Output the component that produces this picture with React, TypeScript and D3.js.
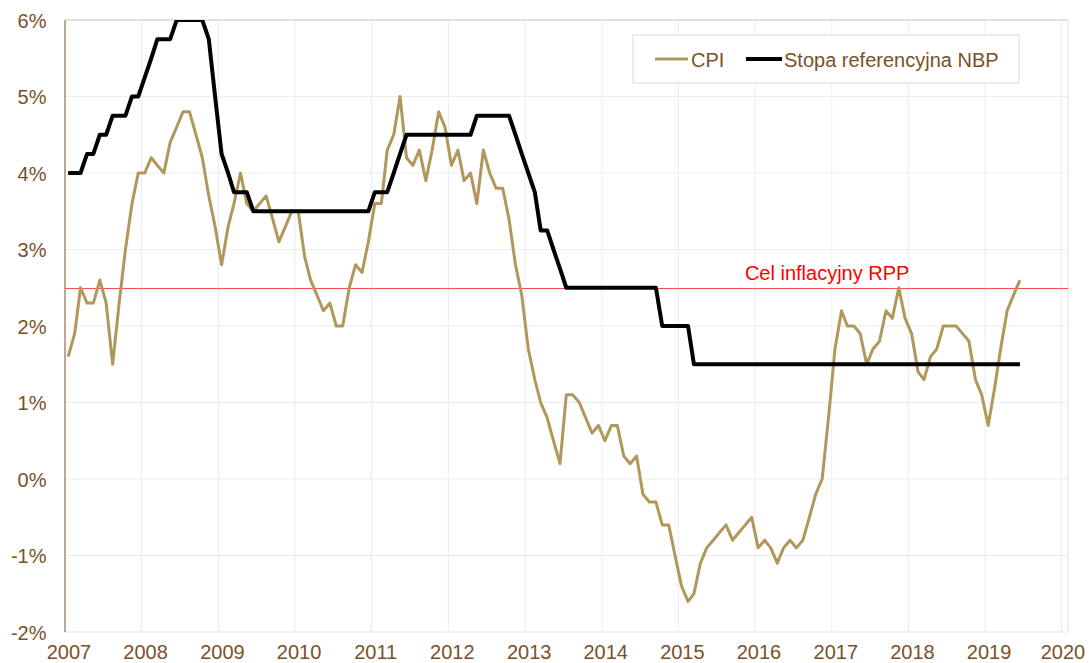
import React, { useEffect, useRef } from "react";
import * as d3 from "d3";

// monthly data, Jan 2007 .. Jun 2019 (y/y CPI and NBP reference rate, month end)
const START_YEAR = 2007;

const cpi: number[] = [
  1.6, 1.9, 2.5, 2.3, 2.3, 2.6, 2.3, 1.5, 2.3, 3.0, 3.6, 4.0,
  4.0, 4.2, 4.1, 4.0, 4.4, 4.6, 4.8, 4.8, 4.5, 4.2, 3.7, 3.3,
  2.8, 3.3, 3.6, 4.0, 3.6, 3.5, 3.6, 3.7, 3.4, 3.1, 3.3, 3.5,
  3.5, 2.9, 2.6, 2.4, 2.2, 2.3, 2.0, 2.0, 2.5, 2.8, 2.7, 3.1,
  3.6, 3.6, 4.3, 4.5, 5.0, 4.2, 4.1, 4.3, 3.9, 4.3, 4.8, 4.6,
  4.1, 4.3, 3.9, 4.0, 3.6, 4.3, 4.0, 3.8, 3.8, 3.4, 2.8, 2.4,
  1.7, 1.3, 1.0, 0.8, 0.5, 0.2, 1.1, 1.1, 1.0, 0.8, 0.6, 0.7,
  0.5, 0.7, 0.7, 0.3, 0.2, 0.3, -0.2, -0.3, -0.3, -0.6, -0.6, -1.0,
  -1.4, -1.6, -1.5, -1.1, -0.9, -0.8, -0.7, -0.6, -0.8, -0.7, -0.6, -0.5,
  -0.9, -0.8, -0.9, -1.1, -0.9, -0.8, -0.9, -0.8, -0.5, -0.2, 0.0, 0.8,
  1.7, 2.2, 2.0, 2.0, 1.9, 1.5, 1.7, 1.8, 2.2, 2.1, 2.5, 2.1,
  1.9, 1.4, 1.3, 1.6, 1.7, 2.0, 2.0, 2.0, 1.9, 1.8, 1.3, 1.1,
  0.7, 1.2, 1.7, 2.2, 2.4, 2.6,
];

const nbp: number[] = [
  4.0, 4.0, 4.0, 4.25, 4.25, 4.5, 4.5, 4.75, 4.75, 4.75, 5.0, 5.0,
  5.25, 5.5, 5.75, 5.75, 5.75, 6.0, 6.0, 6.0, 6.0, 6.0, 5.75, 5.0,
  4.25, 4.0, 3.75, 3.75, 3.75, 3.5, 3.5, 3.5, 3.5, 3.5, 3.5, 3.5,
  3.5, 3.5, 3.5, 3.5, 3.5, 3.5, 3.5, 3.5, 3.5, 3.5, 3.5, 3.5,
  3.75, 3.75, 3.75, 4.0, 4.25, 4.5, 4.5, 4.5, 4.5, 4.5, 4.5, 4.5,
  4.5, 4.5, 4.5, 4.5, 4.75, 4.75, 4.75, 4.75, 4.75, 4.75, 4.5, 4.25,
  4.0, 3.75, 3.25, 3.25, 3.0, 2.75, 2.5, 2.5, 2.5, 2.5, 2.5, 2.5,
  2.5, 2.5, 2.5, 2.5, 2.5, 2.5, 2.5, 2.5, 2.5, 2.0, 2.0, 2.0,
  2.0, 2.0, 1.5, 1.5, 1.5, 1.5, 1.5, 1.5, 1.5, 1.5, 1.5, 1.5,
  1.5, 1.5, 1.5, 1.5, 1.5, 1.5, 1.5, 1.5, 1.5, 1.5, 1.5, 1.5,
  1.5, 1.5, 1.5, 1.5, 1.5, 1.5, 1.5, 1.5, 1.5, 1.5, 1.5, 1.5,
  1.5, 1.5, 1.5, 1.5, 1.5, 1.5, 1.5, 1.5, 1.5, 1.5, 1.5, 1.5,
  1.5, 1.5, 1.5, 1.5, 1.5, 1.5,
];

const target = 2.5;
const yTicks = [-2, -1, 0, 1, 2, 3, 4, 5, 6];
const yearTicks = [2007, 2008, 2009, 2010, 2011, 2012, 2013, 2014, 2015, 2016, 2017, 2018, 2019, 2020];

const FONT = "'Liberation Sans', Arial, sans-serif";
const LABEL = "#7b5127";
const CPI_COLOR = "#b2975b";

export default function App() {
  const svgRef = useRef<SVGSVGElement | null>(null);

  useEffect(() => {
    if (!svgRef.current) return;
    const svg = d3.select(svgRef.current);
    svg.selectAll("*").remove();

    const left = 65, right = 1068, top = 20, bottom = 632;

    const x = d3
      .scaleTime()
      .domain([new Date(2007, 0, 1), new Date(2020, 0, 1)])
      .range([left, 1061.7]);
    const y = d3.scaleLinear().domain([-2, 6]).range([bottom, top]);

    const dateOf = (i: number) => new Date(START_YEAR, i, 16);

    // grid
    const grid = svg.append("g");
    yTicks.filter((t) => t > -2 && t < 6).forEach((t) => {
      grid.append("line").attr("x1", left).attr("x2", right).attr("y1", y(t)).attr("y2", y(t))
        .attr("stroke", "#ececec").attr("stroke-width", 1);
    });
    yearTicks.slice(1).forEach((yr) => {
      const xx = x(new Date(yr, 0, 1));
      grid.append("line").attr("x1", xx).attr("x2", xx).attr("y1", top).attr("y2", bottom)
        .attr("stroke", "#ececec").attr("stroke-width", 1);
    });

    // frame
    svg.append("line").attr("x1", left).attr("x2", right).attr("y1", top).attr("y2", top).attr("stroke", "#c4c4c4");
    svg.append("line").attr("x1", left).attr("x2", right).attr("y1", bottom).attr("y2", bottom).attr("stroke", "#e2e2e2");
    svg.append("line").attr("x1", right).attr("x2", right).attr("y1", top).attr("y2", bottom).attr("stroke", "#e2e2e2");

    // y labels
    svg.append("g").selectAll("text").data(yTicks).join("text")
      .attr("x", 46.5).attr("y", (d) => y(d) + 7.5)
      .attr("text-anchor", "end").attr("font-family", FONT).attr("font-size", 20).attr("fill", LABEL)
      .text((d) => `${d}%`);

    // x labels
    svg.append("g").selectAll("text").data(yearTicks).join("text")
      .attr("x", (d) => Math.min(x(new Date(d, 0, 1)) + 4, 1063)).attr("y", 658.5)
      .attr("text-anchor", "middle").attr("font-family", FONT).attr("font-size", 20).attr("fill", LABEL)
      .text((d) => String(d));

    svg.append("defs").append("clipPath").attr("id", "plot-clip")
      .append("rect").attr("x", left).attr("y", top).attr("width", right - left).attr("height", bottom - top);

    // inflation target
    svg.append("line").attr("x1", left).attr("x2", right).attr("y1", Math.round(y(target)) + 0.5).attr("y2", Math.round(y(target)) + 0.5)
      .attr("stroke", "#ff4d4d").attr("stroke-width", 1);
    svg.append("text").attr("x", x(new Date(2015, 10, 14))).attr("y", y(target) - 7.5)
      .attr("font-family", FONT).attr("font-size", 20).attr("fill", "#ff0000")
      .text("Cel inflacyjny RPP");

    const line = d3.line<number>().x((_, i) => x(dateOf(i))).y((d) => y(d));

    const lines = svg.append("g").attr("clip-path", "url(#plot-clip)");
    lines.append("path").datum(cpi).attr("fill", "none").attr("stroke", CPI_COLOR)
      .attr("stroke-width", 3).attr("stroke-linejoin", "round").attr("d", line);
    lines.append("path").datum(nbp).attr("fill", "none").attr("stroke", "#000")
      .attr("stroke-width", 4).attr("stroke-linejoin", "round").attr("d", line);

    // y axis line
    svg.append("line").attr("x1", left).attr("x2", left).attr("y1", top).attr("y2", bottom)
      .attr("stroke", "#a48d72").attr("stroke-width", 1.5);

    // legend
    const lg = svg.append("g");
    lg.append("rect").attr("x", 633).attr("y", 35).attr("width", 386).attr("height", 48)
      .attr("fill", "#fff").attr("stroke", "#d9d9d9");
    lg.append("line").attr("x1", 655).attr("x2", 688).attr("y1", 59).attr("y2", 59)
      .attr("stroke", CPI_COLOR).attr("stroke-width", 3);
    lg.append("text").attr("x", 691).attr("y", 66.5).attr("font-family", FONT).attr("font-size", 20)
      .attr("fill", LABEL).text("CPI");
    lg.append("line").attr("x1", 746).attr("x2", 782).attr("y1", 59).attr("y2", 59)
      .attr("stroke", "#000").attr("stroke-width", 4);
    lg.append("text").attr("x", 784).attr("y", 66.5).attr("font-family", FONT).attr("font-size", 20)
      .attr("fill", LABEL).text("Stopa referencyjna NBP");
  }, []);

  return (
    <svg
      ref={svgRef}
      width={1089}
      height={663}
      style={{ position: "absolute", left: 0, top: 0, display: "block", background: "#fff" }}
    />
  );
}
